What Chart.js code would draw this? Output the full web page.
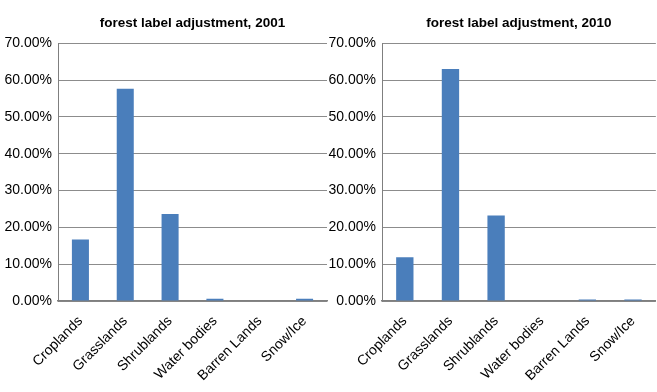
<!DOCTYPE html>
<html>
<head>
<meta charset="utf-8">
<script src="https://cdn.jsdelivr.net/npm/chart.js@4.4.0/dist/chart.umd.min.js"></script>
<style>
    html, body { margin: 0; padding: 0; background: #fff; }
    body { width: 657px; height: 392px; position: relative; overflow: hidden; }
    .box { position: absolute; top: 0; height: 392px; }
    #left-box { left: 0; width: 330px; }
    #right-box { left: 320px; width: 337px; }
</style>
</head>
<body>
<div class="box" id="left-box"><canvas id="chart2001"></canvas></div>
<div class="box" id="right-box"><canvas id="chart2010"></canvas></div>
<script>
// Data
const categories = ['Croplands', 'Grasslands', 'Shrublands', 'Water bodies', 'Barren Lands', 'Snow/Ice'];
const values2001 = [16.7, 57.6, 23.6, 0.6, 0, 0.6];
const values2010 = [11.9, 63.0, 23.2, 0, 0.4, 0.4];
const yTicks = [0, 10, 20, 30, 40, 50, 60, 70];

const FONT = "'Liberation Sans', Arial, sans-serif";
const BAR_COLOR = '#4a7ebb';
const GRID_COLOR = '#8c8c8c';

function makeChart(canvasId, title, values, yWidth, padRight) {
    const ctx = document.getElementById(canvasId).getContext('2d');
    return new Chart(ctx, {
        type: 'bar',
        data: {
            labels: categories,
            datasets: [{
                data: values,
                backgroundColor: BAR_COLOR,
                borderWidth: 0,
                barPercentage: 0.38,
                categoryPercentage: 1
            }]
        },
        options: {
            responsive: true,
            maintainAspectRatio: false,
            animation: false,
            layout: { padding: { top: 0, right: padRight, bottom: 0, left: 0 } },
            plugins: {
                legend: { display: false },
                tooltip: { enabled: false },
                title: {
                    display: true,
                    text: title,
                    fullSize: false,
                    color: '#000',
                    font: { family: FONT, size: 13.5, weight: 'bold' },
                    padding: { top: 15, bottom: 12 }
                }
            },
            scales: {
                x: {
                    grid: { display: false, drawTicks: false },
                    border: { display: true, color: '#7f7f7f', width: 1.5 },
                    ticks: {
                        autoSkip: false,
                        maxRotation: 45,
                        minRotation: 45,
                        padding: 12,
                        color: '#000',
                        font: { family: FONT, size: 14 }
                    },
                    afterFit: (scale) => { scale.height = 91; }
                },
                y: {
                    min: 0,
                    max: 70,
                    afterBuildTicks: (scale) => {
                        scale.ticks = yTicks.map(v => ({ value: v }));
                    },
                    grid: { color: GRID_COLOR, lineWidth: 1, drawTicks: false },
                    border: { display: true, color: '#7f7f7f', width: 1 },
                    ticks: {
                        padding: 6,
                        color: '#000',
                        font: { family: FONT, size: 14 },
                        callback: (v) => v.toFixed(2) + '%'
                    },
                    afterFit: (scale) => { scale.width = yWidth; }
                }
            }
        }
    });
}

makeChart('chart2001', 'forest label adjustment, 2001', values2001, 58, 3);
makeChart('chart2010', 'forest label adjustment, 2010', values2010, 62, 0);
</script>
</body>
</html>
